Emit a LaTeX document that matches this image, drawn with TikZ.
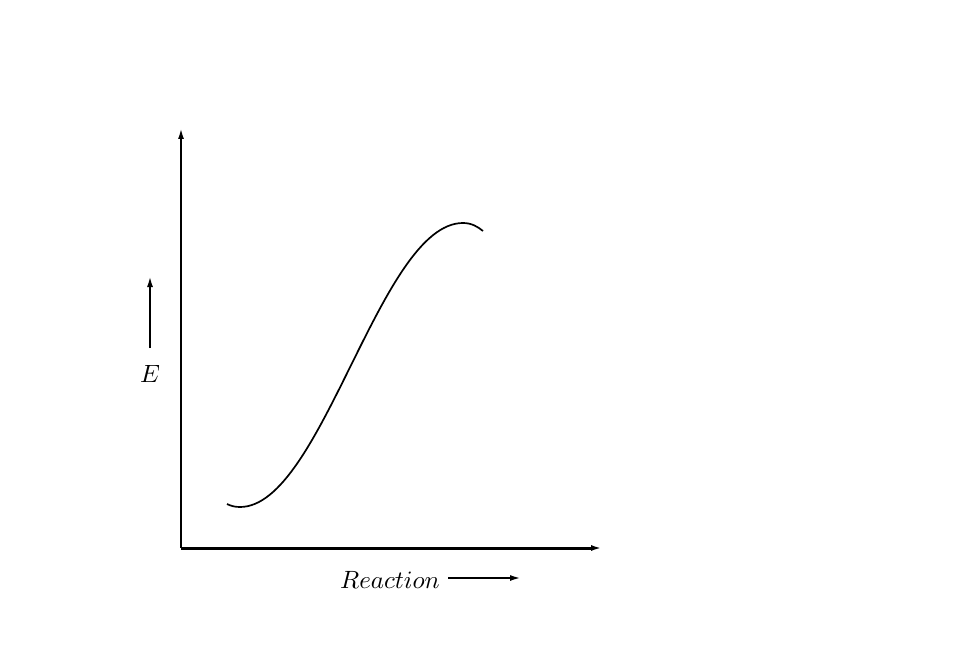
\documentclass[tikz,border=0pt]{standalone}
\usetikzlibrary{arrows.meta}
\begin{document}
\begin{tikzpicture}[x=1pt,y=-1pt,
  tip/.style={-{Latex[length=11pt,width=6pt]}},
  lbl/.style={scale=2.5, inner sep=0pt}]
\useasboundingbox (0,0) rectangle (979,652);
\coordinate (O) at (181,548);
\coordinate (ytop) at (181,128);
\coordinate (xend) at (602,548);
\draw[line width=2pt, tip] (O) -- (ytop);
\draw[line width=3pt, tip] (O) -- (xend);
\coordinate (ea) at (150,348);
\coordinate (eb) at (150,276);
\draw[line width=2pt, tip] (ea) -- (eb);
\node[lbl] (E) at (150,374) {$E$};
\node[lbl] (R) at (390,580) {$Reaction$};
\coordinate (ra) at (448,578);
\coordinate (rb) at (521,578);
\draw[line width=2pt, tip] (ra) -- (rb);
\draw[line width=1.7pt] (227,504) .. controls (231,506) and (235,507) .. (240,507)
  .. controls (322,507) and (380,223) .. (463,223)
  .. controls (472,223) and (478,227) .. (483,231);
\end{tikzpicture}
\end{document}
